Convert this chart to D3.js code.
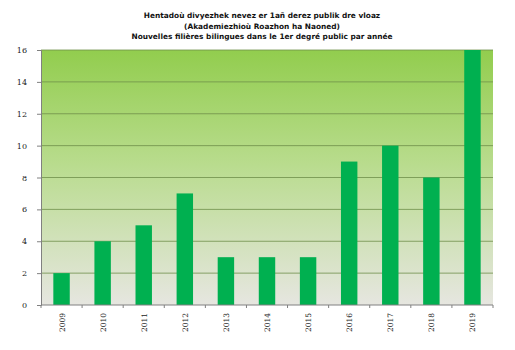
<!DOCTYPE html>
<html><head><meta charset="utf-8">
<script src="https://cdn.jsdelivr.net/npm/d3@7"></script>
<style>body{margin:0;background:#fff}svg{display:block}</style>
</head><body>
<script>
const years = ["2009","2010","2011","2012","2013","2014","2015","2016","2017","2018","2019"];
const values = [2,4,5,7,3,3,3,9,10,8,16];
const yTicks = [0,2,4,6,8,10,12,14,16];
const titleLines = ["Hentadoù divyezhek nevez er 1añ derez publik dre vloaz","(Akademiezhioù Roazhon ha Naoned)","Nouvelles filières bilingues dans le 1er degré public par année"];

const W=515,H=350, m={l:41,r:22,t:50,b:45};
const svg=d3.select("body").append("svg").attr("width",W).attr("height",H);
const defs=svg.append("defs");
const g=defs.append("linearGradient").attr("id","bg").attr("x1",0).attr("y1",0).attr("x2",0).attr("y2",1);
g.append("stop").attr("offset","0%").attr("stop-color","#92cd4e");
g.append("stop").attr("offset","45%").attr("stop-color","#b9dc8e");
g.append("stop").attr("offset","100%").attr("stop-color","#e6e6e0");

const x=d3.scaleBand().domain(years).range([m.l,W-m.r]).paddingInner(0.6).paddingOuter(0.3);
const y=d3.scaleLinear().domain([0,16]).range([H-m.b,m.t]);

svg.append("rect").attr("x",m.l).attr("y",m.t).attr("width",W-m.r-m.l).attr("height",H-m.b-m.t).attr("fill","url(#bg)");

svg.append("g").selectAll("line").data(yTicks.filter(d=>d>0)).join("line")
 .attr("x1",m.l).attr("x2",W-m.r).attr("y1",d=>y(d)).attr("y2",d=>y(d))
 .attr("stroke","#6f8f4a").attr("stroke-width",0.8);

svg.append("g").selectAll("rect").data(values).join("rect")
 .attr("x",(d,i)=>x(years[i])).attr("width",x.bandwidth())
 .attr("y",d=>y(d)).attr("height",d=>y(0)-y(d)).attr("fill","#00b050");

const ya=svg.append("g").attr("transform",`translate(${m.l},0)`)
 .call(d3.axisLeft(y).tickValues(yTicks).tickSize(4).tickPadding(10));
ya.selectAll("text").attr("font-family","DejaVu Serif").attr("font-size",8).attr("fill","#222");
ya.selectAll("line,path").attr("stroke","#808080");

const xa=svg.append("g").attr("transform",`translate(0,${H-m.b})`);
xa.append("line").attr("x1",m.l).attr("x2",W-m.r).attr("stroke","#808080");
xa.selectAll("line.t").data(d3.range(years.length+1)).join("line").attr("class","t")
 .attr("x1",i=>m.l+ (W-m.r-m.l)*i/years.length).attr("x2",i=>m.l+(W-m.r-m.l)*i/years.length)
 .attr("y1",0).attr("y2",3).attr("stroke","#808080");
xa.selectAll("text").data(years).join("text")
 .attr("transform",d=>`translate(${x(d)+x.bandwidth()/2+3},8) rotate(-90)`)
 .attr("text-anchor","end").attr("font-family","DejaVu Serif").attr("font-size",7.5).attr("fill","#222").text(d=>d);

svg.append("g").selectAll("text").data(titleLines).join("text")
 .attr("x",262).attr("y",(d,i)=>18+i*10.5).attr("text-anchor","middle")
 .attr("font-family","DejaVu Sans").attr("font-weight","bold").attr("font-size",7.4).attr("fill","#111").text(d=>d);
</script>
</body></html>
